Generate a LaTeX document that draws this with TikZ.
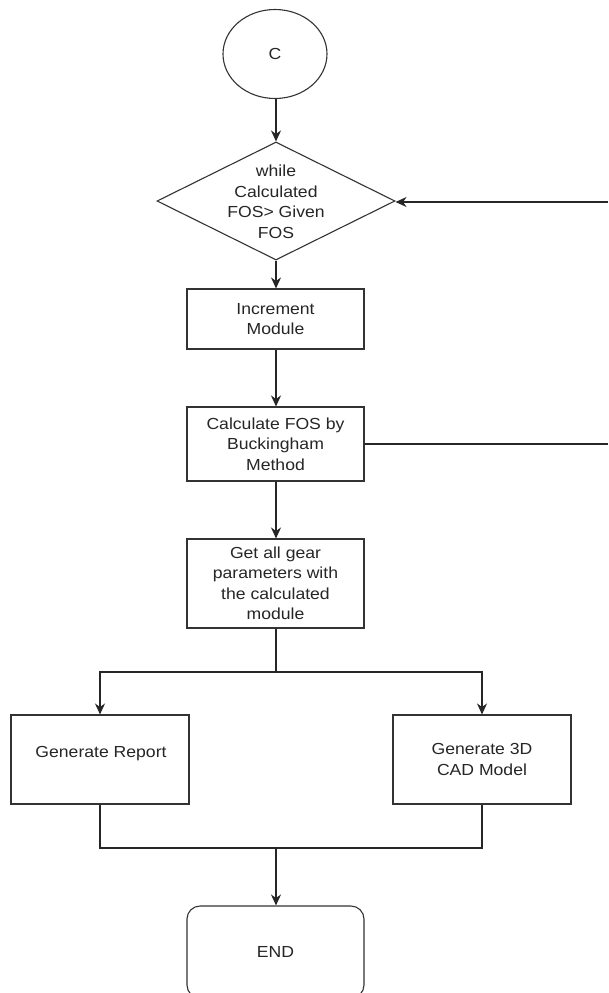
\documentclass[tikz,border=0pt]{standalone}
\usepackage{fontspec}
\setmainfont{Liberation Sans}[FakeStretch=1.1]
\usetikzlibrary{shapes.geometric,arrows.meta}
\begin{document}
\begin{tikzpicture}[x=1pt,y=-1pt,
  every node/.style={font=\fontsize{16}{20.5}\selectfont, text=black!85},
  box/.style={draw=black!80, line width=1.1pt, rectangle, inner sep=0pt, align=center},
  conn/.style={draw=black!85, line width=1.3pt},
  arr/.style={conn, -{Stealth[length=11pt,width=10pt]}}]
\useasboundingbox (0,0) rectangle (608,993);
\fill[white] (0,0) rectangle (608,993);
% nodes
\node[draw=black!80, line width=1.1pt, ellipse, inner sep=0pt, minimum width=104pt, minimum height=89pt] (c) at (275,54) {C};
\node[draw=black!80, line width=1.1pt, diamond, inner sep=0pt, minimum width=238pt, minimum height=118pt] (dec) at (276,201) {};
\node[align=center] (dectxt) at (276,202) {while\\Calculated\\FOS> Given\\FOS};
\node[box, minimum width=177pt, minimum height=60pt] (inc) at (275.5,319) {Increment\\Module};
\node[box, minimum width=177pt, minimum height=74pt] (calc) at (275.5,444) {Calculate FOS by\\Buckingham\\Method};
\node[box, minimum width=177pt, minimum height=89pt] (get) at (275.5,583.5) {Get all gear\\parameters with\\the calculated\\module};
\node[box, minimum width=178pt, minimum height=89pt] (rep) at (100,759.5) {};
\node (reptxt) at (101,754) {Generate Report};
\node[box, minimum width=178pt, minimum height=89pt] (cad) at (482,759.5) {Generate 3D\\CAD Model};
\node[box, rounded corners=13pt, minimum width=177pt, minimum height=92pt] (end) at (275.5,952) {END};
% coordinates
\coordinate (rin) at (608,202);
\coordinate (rout) at (608,444);
\coordinate (split) at (276,672);
\coordinate (join) at (276,848);
% connectors
\draw[arr] (c.south -| dec.north) -- (dec.north);
\draw[arr] (rin) -- (rin -| dec.east);
\draw[arr] (dec.south) -- (inc.north -| dec.south);
\draw[arr] (inc.south -| dec.south) -- (calc.north -| dec.south);
\draw[conn] (calc.east |- rout) -- (rout);
\draw[arr] (calc.south -| dec.south) -- (get.north -| dec.south);
\draw[conn] (get.south -| split) -- (split);
\draw[arr] (split) -| (rep.north);
\draw[arr] (split) -| (cad.north);
\draw[conn] (rep.south) |- (join);
\draw[conn] (cad.south) |- (join);
\draw[arr] (join) -- (end.north -| join);
\end{tikzpicture}
\end{document}
